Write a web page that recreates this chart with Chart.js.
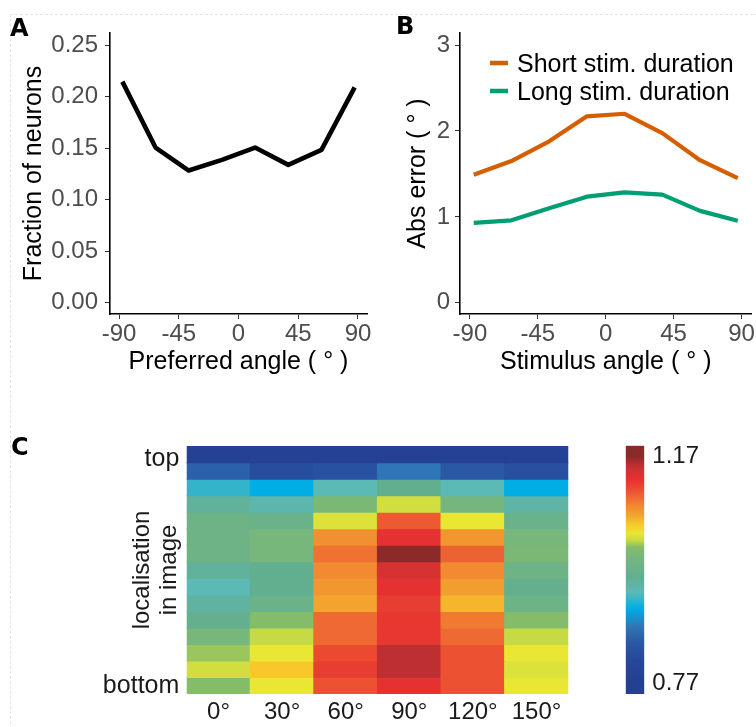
<!DOCTYPE html>
<html>
<head>
<meta charset="utf-8">
<script src="https://cdn.jsdelivr.net/npm/chart.js@4.4.1/dist/chart.umd.min.js"></script>
<style>
  html, body { margin: 0; padding: 0; background: #fff; }
  #fig { position: relative; width: 756px; height: 727px; overflow: hidden; background: #fff; }
  #fig canvas { position: absolute; }
  .frame { position: absolute; left: 10px; top: 14px; right: -2px; bottom: -2px;
           border-top: 1px dashed #e4e4e4; border-left: 1px dashed #e4e4e4; }
  .tag { position: absolute; font: bold 24px "DejaVu Sans", sans-serif; line-height: 24px; color: #000; }
</style>
</head>
<body>
<div id="fig">
  <div class="frame"></div>
  <canvas id="chartA" width="380" height="390" style="left:0;top:0"></canvas>
  <canvas id="chartB" width="376" height="390" style="left:380px;top:0"></canvas>
  <canvas id="chartC" width="590" height="307" style="left:0;top:420px"></canvas>
  <canvas id="chartBar" width="166" height="307" style="left:590px;top:420px"></canvas>
  <div class="tag" style="left:10px;top:16px">A</div>
  <div class="tag" style="left:396px;top:14px">B</div>
  <div class="tag" style="left:11px;top:435px">C</div>
</div>
<script>
// ---- data ----
const angleTicks = [-90, -45, 0, 45, 90];

// panel A
const prefAngles = [-87.5, -62.5, -37.5, -12.5, 12.5, 37.5, 62.5, 87.5];
const fractionNeurons = [0.2145, 0.1505, 0.1282, 0.1386, 0.1505, 0.1337, 0.1483, 0.209];
const fractionTicks = [0, 0.05, 0.10, 0.15, 0.20, 0.25];

// panel B
const stimAngles = [-87.5, -62.5, -37.5, -12.5, 12.5, 37.5, 62.5, 87.5];
const errorShort = [1.49, 1.65, 1.88, 2.17, 2.20, 1.975, 1.66, 1.45];
const errorLong = [0.93, 0.96, 1.10, 1.235, 1.285, 1.26, 1.07, 0.955];
const errorTicks = [0, 1, 2, 3];
const seriesNames = ['Short stim. duration', 'Long stim. duration'];

// panel C (rows listed from top to bottom of the image)
const heatCols = ['0°', '30°', '60°', '90°', '120°', '150°'];
const rowEnds = ['top', 'bottom'];
const heatValues = [
  [0.778, 0.778, 0.782, 0.778, 0.782, 0.782],
  [0.850, 0.822, 0.830, 0.870, 0.842, 0.826],
  [0.918, 0.902, 0.930, 0.958, 0.930, 0.902],
  [0.950, 0.938, 0.998, 1.026, 0.990, 0.942],
  [0.978, 0.970, 1.030, 1.106, 1.034, 0.970],
  [0.978, 0.994, 1.078, 1.130, 1.074, 0.994],
  [0.978, 0.994, 1.094, 1.170, 1.102, 0.998],
  [0.950, 0.958, 1.082, 1.142, 1.082, 0.978],
  [0.930, 0.958, 1.074, 1.130, 1.070, 0.962],
  [0.946, 0.970, 1.066, 1.122, 1.058, 0.974],
  [0.962, 1.010, 1.098, 1.126, 1.090, 1.010],
  [0.994, 1.022, 1.098, 1.126, 1.098, 1.022],
  [1.014, 1.034, 1.114, 1.154, 1.110, 1.034],
  [1.026, 1.050, 1.122, 1.154, 1.110, 1.030],
  [1.010, 1.034, 1.110, 1.130, 1.110, 1.034]
];
const colorLimits = [0.77, 1.17];

// ---- colour map (low -> high) ----
const cmapStops = [
  [0.00, '#253f92'], [0.10, '#26479b'], [0.18, '#2a58a5'], [0.25, '#2f76b8'],
  [0.33, '#00aee6'], [0.40, '#5bb9b6'], [0.47, '#62af90'], [0.55, '#75b67f'],
  [0.60, '#84bc69'], [0.63, '#c6da45'], [0.66, '#e9e634'], [0.70, '#f8c82b'],
  [0.74, '#f2a42f'], [0.78, '#f28a31'], [0.82, '#ee6a32'], [0.86, '#eb4a31'],
  [0.90, '#e53131'], [0.94, '#d13232'], [0.97, '#b52e31'], [1.00, '#8c2a2a']
];

function hexToRgb(h) {
  return [1, 3, 5].map(i => parseInt(h.slice(i, i + 2), 16));
}

function heatColor(v) {
  let t = (v - colorLimits[0]) / (colorLimits[1] - colorLimits[0]);
  t = Math.max(0, Math.min(1, t));
  for (let i = 1; i < cmapStops.length; i++) {
    const [t1, c1] = cmapStops[i];
    if (t <= t1) {
      const [t0, c0] = cmapStops[i - 1];
      const f = (t - t0) / (t1 - t0);
      const a = hexToRgb(c0), b = hexToRgb(c1);
      const rgb = a.map((x, k) => Math.round(x + (b[k] - x) * f));
      return `rgb(${rgb.join(',')})`;
    }
  }
  return cmapStops[cmapStops.length - 1][1];
}

// ---- shared look ----
Chart.defaults.font.family = '"Liberation Sans", Arial, Helvetica, sans-serif';
Chart.defaults.animation = false;

const tickFont = { size: 24 };
const titleFont = { size: 25 };

const setTicks = values => scale => { scale.ticks = values.map(v => ({ value: v })); };
const fixWidth = w => scale => { scale.width = w; };
const fixHeight = h => scale => { scale.height = h; };

const axisBorder = { display: true, color: '#000', width: 1.6 };
const axisGrid = { display: true, drawOnChartArea: false, drawTicks: true, tickLength: 5, tickColor: '#333', color: '#333' };

// ---- A: fraction of neurons ----
new Chart(document.getElementById('chartA'), {
  type: 'line',
  data: {
    datasets: [{
      data: prefAngles.map((x, i) => ({ x, y: fractionNeurons[i] })),
      borderColor: '#000',
      borderWidth: 4.6,
      borderJoinStyle: 'round',
      pointRadius: 0,
      tension: 0
    }]
  },
  options: {
    responsive: false,
    devicePixelRatio: 1,
    layout: { padding: { left: 0, top: 33, right: 13, bottom: 0 } },
    plugins: { legend: { display: false }, tooltip: { enabled: false } },
    scales: {
      x: {
        type: 'linear', min: -96.8, max: 96.8,
        afterBuildTicks: setTicks(angleTicks),
        afterFit: fixHeight(76),
        border: axisBorder, grid: axisGrid,
        ticks: { color: '#4d4d4d', font: tickFont, padding: 1, maxRotation: 0, callback: v => String(v) },
        title: { display: true, text: 'Preferred angle ( ° )', color: '#000', font: titleFont, padding: { top: 0, bottom: 13 } }
      },
      y: {
        min: -0.011, max: 0.2617,
        afterBuildTicks: setTicks(fractionTicks),
        afterFit: fixWidth(110),
        border: axisBorder, grid: axisGrid,
        ticks: { color: '#4d4d4d', font: tickFont, padding: 7, callback: v => v.toFixed(2) },
        title: { display: true, text: 'Fraction of neurons', color: '#000', font: titleFont, padding: { top: 19, bottom: 0 } }
      }
    }
  }
});

// ---- B: absolute error, legend inside the plot ----
const insideLegend = {
  id: 'insideLegend',
  afterDatasetsDraw(chart) {
    const { ctx, chartArea } = chart;
    ctx.save();
    ctx.font = '25px "Liberation Sans", Arial, sans-serif';
    ctx.textBaseline = 'middle';
    chart.data.datasets.forEach((ds, i) => {
      const y = chartArea.top + 30 + i * 28;
      const x = chartArea.left + 30;
      ctx.strokeStyle = ds.borderColor;
      ctx.lineWidth = 4.5;
      ctx.beginPath();
      ctx.moveTo(x, y);
      ctx.lineTo(x + 18, y);
      ctx.stroke();
      ctx.fillStyle = '#000';
      ctx.fillText(ds.label, x + 27, y + 2);
    });
    ctx.restore();
  }
};

new Chart(document.getElementById('chartB'), {
  type: 'line',
  data: {
    datasets: [
      {
        label: seriesNames[0],
        data: stimAngles.map((x, i) => ({ x, y: errorShort[i] })),
        borderColor: '#d55e00', borderWidth: 4.2, pointRadius: 0, borderJoinStyle: 'round'
      },
      {
        label: seriesNames[1],
        data: stimAngles.map((x, i) => ({ x, y: errorLong[i] })),
        borderColor: '#009e73', borderWidth: 4.2, pointRadius: 0, borderJoinStyle: 'round'
      }
    ]
  },
  plugins: [insideLegend],
  options: {
    responsive: false,
    devicePixelRatio: 1,
    layout: { padding: { left: 0, top: 33, right: 4.3, bottom: 0 } },
    plugins: { legend: { display: false }, tooltip: { enabled: false } },
    scales: {
      x: {
        type: 'linear', min: -96.6, max: 96.6,
        afterBuildTicks: setTicks(angleTicks),
        afterFit: fixHeight(76),
        border: axisBorder, grid: axisGrid,
        ticks: { color: '#4d4d4d', font: tickFont, padding: 1, maxRotation: 0, callback: v => String(v) },
        title: { display: true, text: 'Stimulus angle ( ° )', color: '#000', font: titleFont, padding: { top: 0, bottom: 13 } }
      },
      y: {
        min: -0.13, max: 3.14,
        afterBuildTicks: setTicks(errorTicks),
        afterFit: fixWidth(80),
        border: axisBorder, grid: axisGrid,
        ticks: { color: '#4d4d4d', font: tickFont, padding: 5, callback: v => String(v) },
        title: { display: true, text: 'Abs error ( ° )', color: '#000', font: titleFont, padding: { top: 23, bottom: 0 } }
      }
    }
  }
});

// ---- C: heat map, one floating-bar dataset per image row ----
const nRows = heatValues.length;
const heatDatasets = heatValues.map((row, r) => {
  const colors = row.map(heatColor);
  return {
    data: row.map(() => [nRows - r - 1, nRows - r]),
    backgroundColor: colors,
    borderWidth: 0,
    inflateAmount: 0.6,
    grouped: false,
    barPercentage: 1,
    categoryPercentage: 1
  };
});

new Chart(document.getElementById('chartC'), {
  type: 'bar',
  data: { labels: heatCols, datasets: heatDatasets },
  options: {
    responsive: false,
    devicePixelRatio: 1,
    layout: { padding: { left: 0, top: 26, right: 21.7, bottom: 0 } },
    plugins: { legend: { display: false }, tooltip: { enabled: false } },
    scales: {
      x: {
        afterFit: fixHeight(33),
        border: { display: false },
        grid: { display: false, drawTicks: false },
        ticks: { color: '#1a1a1a', font: { size: 24 }, padding: 4, maxRotation: 0 }
      },
      y: {
        min: 0, max: nRows,
        afterBuildTicks: setTicks([nRows - 0.8, 0.5]),
        afterFit: fixWidth(186.7),
        border: { display: false },
        grid: { display: false, drawTicks: false },
        ticks: { color: '#1a1a1a', font: { size: 25 }, padding: 7.4, callback: (v, i) => rowEnds[i] },
        title: {
          display: true, text: ['localisation', 'in image'], color: '#1a1a1a',
          font: { size: 24, lineHeight: 1.1 }, padding: { top: 129.5, bottom: 0 }
        }
      }
    }
  }
});

// ---- C: colour bar ----
const barRange = [0.7505, 1.1895];

new Chart(document.getElementById('chartBar'), {
  type: 'bar',
  data: {
    labels: ['scale'],
    datasets: [{
      data: [barRange],
      barPercentage: 1,
      categoryPercentage: 1,
      borderWidth: 0,
      backgroundColor: ctx => {
        const chart = ctx.chart;
        if (!chart.chartArea) return cmapStops[0][1];
        const y = chart.scales.y;
        const g = chart.ctx.createLinearGradient(0, y.getPixelForValue(colorLimits[0]), 0, y.getPixelForValue(colorLimits[1]));
        cmapStops.forEach(([t, c]) => g.addColorStop(t, c));
        return g;
      }
    }]
  },
  options: {
    responsive: false,
    devicePixelRatio: 1,
    layout: { padding: { left: 35.7, top: 25.7, right: 0, bottom: 33 } },
    plugins: { legend: { display: false }, tooltip: { enabled: false } },
    scales: {
      x: { display: false },
      y: {
        position: 'right',
        min: barRange[0], max: barRange[1],
        afterBuildTicks: setTicks(colorLimits),
        afterFit: fixWidth(111.7),
        border: { display: false },
        grid: { display: false, drawTicks: false },
        ticks: { color: '#1a1a1a', font: { size: 24 }, padding: 8, callback: v => v.toFixed(2) }
      }
    }
  }
});
</script>
</body>
</html>
